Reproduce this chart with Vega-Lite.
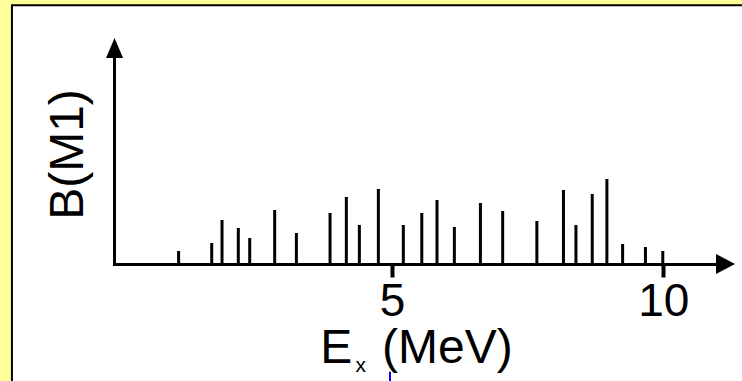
{
  "$schema": "https://vega.github.io/schema/vega-lite/v6.json",
  "width": 602,
  "height": 206,
  "autosize": {"type": "none"},
  "padding": {"left": 114, "top": 58, "right": 26, "bottom": 117},
  "background": "#ffff99",
  "config": {
    "view": {"stroke": null},
    "font": "Liberation Sans"
  },
  "datasets": {
    "lines": [
      {"ex": 1.07, "b": 13},
      {"ex": 1.68, "b": 21},
      {"ex": 1.87, "b": 44},
      {"ex": 2.17, "b": 36},
      {"ex": 2.38, "b": 26},
      {"ex": 2.84, "b": 54},
      {"ex": 3.24, "b": 31},
      {"ex": 3.86, "b": 51},
      {"ex": 4.16, "b": 67},
      {"ex": 4.40, "b": 39},
      {"ex": 4.75, "b": 75},
      {"ex": 5.21, "b": 39},
      {"ex": 5.55, "b": 51},
      {"ex": 5.83, "b": 64},
      {"ex": 6.15, "b": 37},
      {"ex": 6.63, "b": 61},
      {"ex": 7.04, "b": 53},
      {"ex": 7.67, "b": 43},
      {"ex": 8.16, "b": 74},
      {"ex": 8.39, "b": 39},
      {"ex": 8.69, "b": 70},
      {"ex": 8.96, "b": 85},
      {"ex": 9.25, "b": 20},
      {"ex": 9.67, "b": 17},
      {"ex": 9.99, "b": 13}
    ],
    "one": [{}]
  },
  "layer": [
    {
      "data": {"name": "one"},
      "mark": {"type": "rect", "fill": "white", "stroke": "black", "strokeWidth": 2},
      "encoding": {
        "x": {"datum": -2.0, "scale": {"domain": [-0.12, 10.97], "nice": false, "zero": false}},
        "x2": {"datum": 13},
        "y": {"datum": 258.7, "scale": {"domain": [0, 206], "nice": false}},
        "y2": {"datum": -250}
      }
    },
    {
      "data": {"name": "lines"},
      "mark": {"type": "rule", "color": "black", "strokeWidth": 3, "strokeCap": "butt"},
      "encoding": {
        "x": {
          "field": "ex", "type": "quantitative",
          "scale": {"domain": [-0.12, 10.97], "nice": false, "zero": false},
          "axis": {
            "zindex": 2,
            "values": [5, 10], "format": "d", "title": null, "grid": false,
            "domain": true, "domainColor": "black", "domainWidth": 3, "domainCap": "square",
            "ticks": true, "tickColor": "black", "tickWidth": 4, "tickSize": 13,
            "labelFont": "Liberation Sans", "labelFontSize": 46, "labelColor": "black",
            "labelPadding": 2, "labelFlush": false, "labelOverlap": false
          }
        },
        "y": {
          "field": "b", "type": "quantitative",
          "scale": {"domain": [0, 206], "nice": false},
          "axis": {
            "zindex": 2,
            "title": "B(M1)", "grid": false, "ticks": false, "labels": false,
            "domain": true, "domainColor": "black", "domainWidth": 3, "domainCap": "square",
            "titleFont": "Liberation Sans", "titleFontSize": 48, "titleFontWeight": "normal",
            "titleColor": "black", "titleAngle": -90, "titleBaseline": "alphabetic",
            "titleAlign": "center", "titleX": -32, "titleY": 96
          }
        },
        "y2": {"datum": 0}
      }
    },
    {
      "data": {"name": "one"},
      "mark": {"type": "point", "shape": "M1,0L-0.9,-1L-0.9,1Z", "filled": true, "color": "black", "size": 400, "opacity": 1, "strokeWidth": 0},
      "encoding": {"x": {"datum": 11.136}, "y": {"datum": 0}}
    },
    {
      "data": {"name": "one"},
      "mark": {"type": "point", "shape": "M0,-1L-0.85,1L0.85,1Z", "filled": true, "color": "black", "size": 400, "opacity": 1, "strokeWidth": 0},
      "encoding": {"x": {"datum": -0.11}, "y": {"datum": 216}}
    },
    {
      "data": {"name": "one"},
      "mark": {"type": "text", "text": "E", "align": "left", "baseline": "alphabetic", "fontSize": 48, "font": "Liberation Sans", "color": "black"},
      "encoding": {"x": {"datum": 3.679}, "y": {"datum": -99.3}}
    },
    {
      "data": {"name": "one"},
      "mark": {"type": "text", "text": "x", "align": "left", "baseline": "alphabetic", "fontSize": 21, "font": "Liberation Sans", "color": "black"},
      "encoding": {"x": {"datum": 4.329}, "y": {"datum": -107.7}}
    },
    {
      "data": {"name": "one"},
      "mark": {"type": "text", "text": "(MeV)", "align": "left", "baseline": "alphabetic", "fontSize": 48, "font": "Liberation Sans", "color": "black"},
      "encoding": {"x": {"datum": 4.817}, "y": {"datum": -99.3}}
    },
    {
      "data": {"name": "one"},
      "mark": {"type": "rule", "color": "#0000ff", "strokeWidth": 2},
      "encoding": {"x": {"datum": 4.965}, "y": {"datum": -107.7}, "y2": {"datum": -130}}
    }
  ]
}
